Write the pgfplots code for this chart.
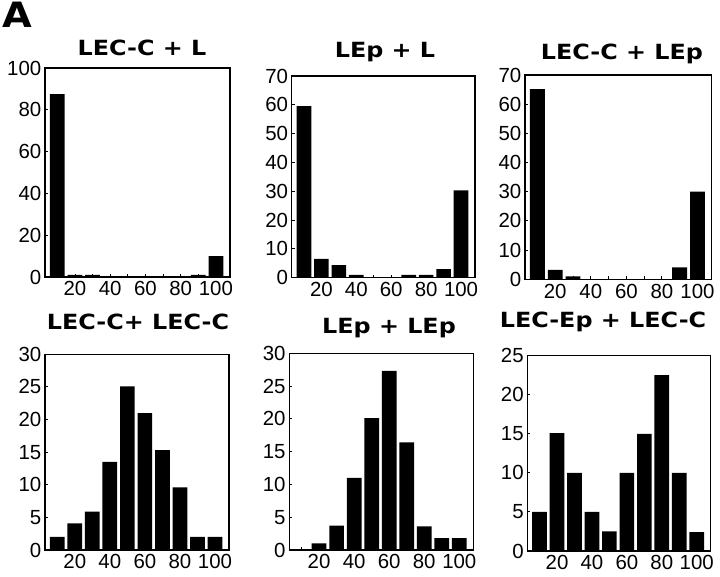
\documentclass[border=0pt]{standalone}
\usepackage{graphicx}
\usepackage{fontspec}
\setmainfont{DejaVu Sans}
\newfontfamily\tickfont{Liberation Sans}
\usepackage{pgfplots}
\pgfplotsset{compat=1.18}

\newcommand{\ttl}[1]{{\fontsize{21}{21}\selectfont\bfseries\scalebox{1.14}[1]{#1}}}

\pgfplotsset{
  hist/.style={
    scale only axis, ybar, bar width=8.4,
    xmin=3, xmax=108, ymin=0,
    xtick={20,40,60,80,100}, minor xtick={10,30,50,70,90},
    tick align=inside, xtick pos=bottom, ytick pos=left,
    major tick length=3bp, minor tick length=3bp,
    axis line style={line width=1.3bp},
    tick style={line width=0.9bp, black},
    ticklabel style={font=\tickfont\fontsize{20.5}{20.5}\selectfont},
    /pgf/number format/assume math mode=true,
    yticklabel style={inner sep=3.5bp},
    xticklabel style={inner sep=4.5bp},
  },
  barfill/.style={fill=black, draw=none},
}

\begin{document}
\begin{tikzpicture}[x=1bp,y=1bp]
\useasboundingbox (0,0) rectangle (720,577);

\node[anchor=base west, inner sep=0] at (2,549)
  {\fontsize{35}{35}\selectfont\bfseries\scalebox{1.1}[1]{A}};

% top row
\begin{axis}[hist, at={(45bp,300bp)}, anchor=south west,
  width=185bp, height=209bp, ymax=100, ytick={0,20,...,100}]
\addplot[barfill] coordinates {(10,87.5) (20,1) (30,1) (40,0) (50,0) (60,0) (70,0) (80,0) (90,1) (100,10)};
\end{axis}
\node[anchor=base] at (142,521) {\ttl{LEC-C + L}};

\begin{axis}[hist, at={(291.7bp,299.3bp)}, anchor=south west,
  width=183.3bp, height=201.7bp, ymax=70, ytick={0,10,...,70}]
\addplot[barfill] coordinates {(10,59.5) (20,6.5) (30,4.4) (40,1) (50,0) (60,0) (70,1) (80,1) (90,3) (100,30.3)};
\end{axis}
\node[anchor=base] at (385,519) {\ttl{LEp + L}};

\begin{axis}[hist, at={(525bp,297.7bp)}, anchor=south west,
  width=186.7bp, height=204.3bp, ymax=70, ytick={0,10,...,70}]
\addplot[barfill] coordinates {(10,65.2) (20,3.2) (30,1) (40,0) (50,0) (60,0) (70,0) (80,0) (90,4.1) (100,30)};
\end{axis}
\node[anchor=base] at (622,517) {\ttl{LEC-C + LEp}};

% bottom row
\begin{axis}[hist, at={(45bp,27bp)}, anchor=south west,
  width=184bp, height=195.7bp, ymax=30, ytick={0,5,...,30}]
\addplot[barfill] coordinates {(10,2) (20,4.1) (30,5.9) (40,13.5) (50,25.1) (60,21) (70,15.3) (80,9.6) (90,2) (100,2)};
\end{axis}
\node[anchor=base] at (138,247) {\ttl{LEC-C+ LEC-C}};

\begin{axis}[hist, at={(289.3bp,27bp)}, anchor=south west,
  width=184bp, height=196.7bp, ymax=30, ytick={0,5,...,30}]
\addplot[barfill] coordinates {(10,0) (20,1) (30,3.7) (40,11) (50,20.1) (60,27.3) (70,16.4) (80,3.6) (90,1.8) (100,1.8)};
\end{axis}
\node[anchor=base] at (389,243) {\ttl{LEp + LEp}};

\begin{axis}[hist, at={(527.3bp,26bp)}, anchor=south west,
  width=183.4bp, height=195.3bp, ymax=25, ytick={0,5,...,25}]
\addplot[barfill] coordinates {(10,5) (20,15.1) (30,10) (40,5) (50,2.5) (60,10) (70,15) (80,22.5) (90,10) (100,2.4)};
\end{axis}
\node[anchor=base] at (603,249) {\ttl{LEC-Ep + LEC-C}};
\end{tikzpicture}
\end{document}
